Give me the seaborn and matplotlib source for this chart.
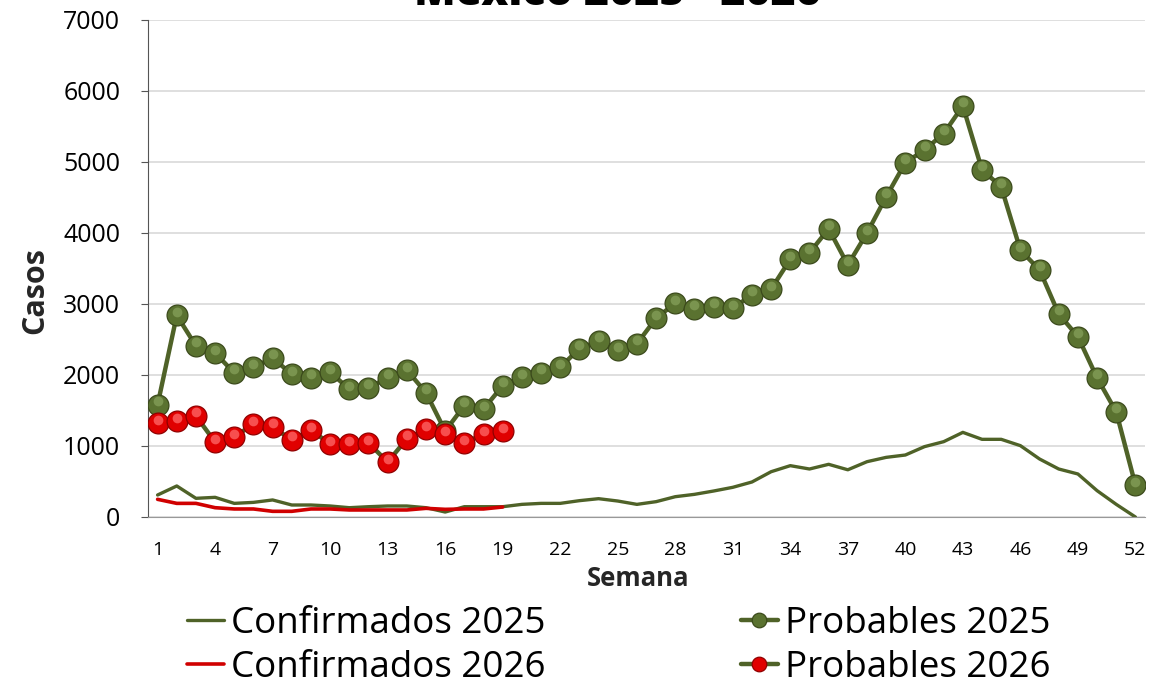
import matplotlib.pyplot as plt
import matplotlib.transforms as mtransforms
import seaborn as sns
import numpy as np

# semanas epidemiologicas
semanas_2025 = list(range(1, 53))
semanas_2026 = list(range(1, 20))

probables_2025 = [1580, 2840, 2410, 2310, 2030, 2110, 2240, 2010, 1960, 2040,
                  1800, 1820, 1960, 2070, 1750, 1210, 1570, 1520, 1850, 1970,
                  2030, 2110, 2370, 2480, 2350, 2440, 2800, 3010, 2930, 2960,
                  2940, 3130, 3210, 3630, 3720, 4060, 3550, 4000, 4510, 4990,
                  5170, 5400, 5790, 4890, 4650, 3760, 3480, 2860, 2540, 1960,
                  1480, 450]
confirmados_2025 = [310, 437, 263, 277, 192, 206, 240, 169, 169, 155,
                    131, 145, 155, 155, 131, 70, 145, 145, 145, 178,
                    192, 192, 230, 258, 225, 178, 216, 286, 319, 366,
                    418, 493, 638, 723, 676, 742, 665, 779, 840, 873,
                    991, 1061, 1192, 1094, 1094, 1005, 817, 676, 606, 371,
                    178, 0]
probables_2026 = [1324, 1352, 1423, 1056, 1127, 1310, 1268, 1085, 1225, 1028,
                  1028, 1042, 775, 1099, 1239, 1169, 1042, 1169, 1211]
confirmados_2026 = [249, 192, 192, 131, 113, 113, 80, 80, 113, 113,
                    99, 99, 99, 99, 122, 108, 113, 113, 141]

verde = "#4F6228"
rojo = "#D00000"

sns.set_style("white")
plt.rcParams["font.family"] = ["Open Sans", "DejaVu Sans"]
plt.rcParams["text.color"] = "black"
plt.rcParams["xtick.labelcolor"] = "black"
plt.rcParams["ytick.labelcolor"] = "black"

fig = plt.figure(figsize=(11.53, 6.79), dpi=100)
ax = fig.add_axes([148 / 1153, 1 - 517 / 679, (1145 - 148) / 1153, (517 - 20) / 679])

sns.lineplot(x=semanas_2025, y=confirmados_2025, ax=ax, color=verde, lw=2.4,
             label="Confirmados 2025", zorder=2)
sns.lineplot(x=semanas_2026, y=confirmados_2026, ax=ax, color=rojo, lw=2.6,
             label="Confirmados 2026", zorder=3)
sns.lineplot(x=semanas_2025, y=probables_2025, ax=ax, color=verde, lw=3.2,
             marker="o", markersize=15, markerfacecolor="#5A7230",
             markeredgecolor="#3B4A1B", markeredgewidth=0.9,
             label="Probables 2025", zorder=4)
sns.lineplot(x=semanas_2026, y=probables_2026, ax=ax, color=verde, lw=3.2,
             marker="o", markersize=15, markerfacecolor="#E00000",
             markeredgecolor="#900000", markeredgewidth=0.9,
             label="Probables 2026", zorder=5)

# brillo de las esferas
brillo = mtransforms.offset_copy(ax.transData, fig=fig, x=0, y=2.5, units="points")
ax.plot(semanas_2025, probables_2025, ls="none", marker="o", markersize=7,
        markerfacecolor="#86A05A", markeredgecolor="none", alpha=0.75,
        transform=brillo, zorder=4.5)
ax.plot(semanas_2026, probables_2026, ls="none", marker="o", markersize=7,
        markerfacecolor="#FF6A6A", markeredgecolor="none", alpha=0.75,
        transform=brillo, zorder=5.5)

ax.set_xlim(0.5, 52.5)
ax.set_ylim(0, 7000)
ax.set_yticks(range(0, 7001, 1000))
ax.set_xticks(range(1, 53, 3))
ax.set_xticks(np.arange(0.5, 53, 1), minor=True)
ax.tick_params(axis="x", which="major", length=0, labelsize=14, pad=17)
ax.tick_params(axis="x", which="minor", length=6, color="#888888", direction="out")
ax.tick_params(axis="y", length=5, labelsize=18, left=True, color="#555555",
               direction="out", pad=15)
ax.yaxis.grid(True, color="#D9D9D9", lw=1.2)
ax.xaxis.grid(False)
for s in ["top", "right"]:
    ax.spines[s].set_visible(False)
ax.spines["left"].set_color("#555555")
ax.spines["bottom"].set_color("#999999")

ax.set_ylabel("Casos", fontsize=22, fontweight="bold")
ax.yaxis.set_label_coords((35 - 148) / 997, (517 - 291) / 497)
ax.yaxis.label.set_va("center")
ax.set_xlabel("Semana", fontsize=18.5, fontweight="bold")
ax.xaxis.set_label_coords((638 - 148) / 997, -(578 - 517) / 497)
ax.xaxis.label.set_va("center")

fig.text(617 / 1153, 1 - 5 / 679, "México 2025 - 2026", ha="center", va="baseline",
         fontsize=31, fontweight="heavy")

h, l = ax.get_legend_handles_labels()
ax.get_legend().remove()
leg = fig.legend(h, l, loc="center left", bbox_to_anchor=(187 / 1153, 1 - 646 / 679),
                 ncol=2, frameon=False, fontsize=26.5, handlelength=1.0,
                 handletextpad=0.2, columnspacing=5.3, labelspacing=0.2,
                 borderpad=0, borderaxespad=0, markerscale=0.7)

fig.savefig("out.png", dpi=100)
